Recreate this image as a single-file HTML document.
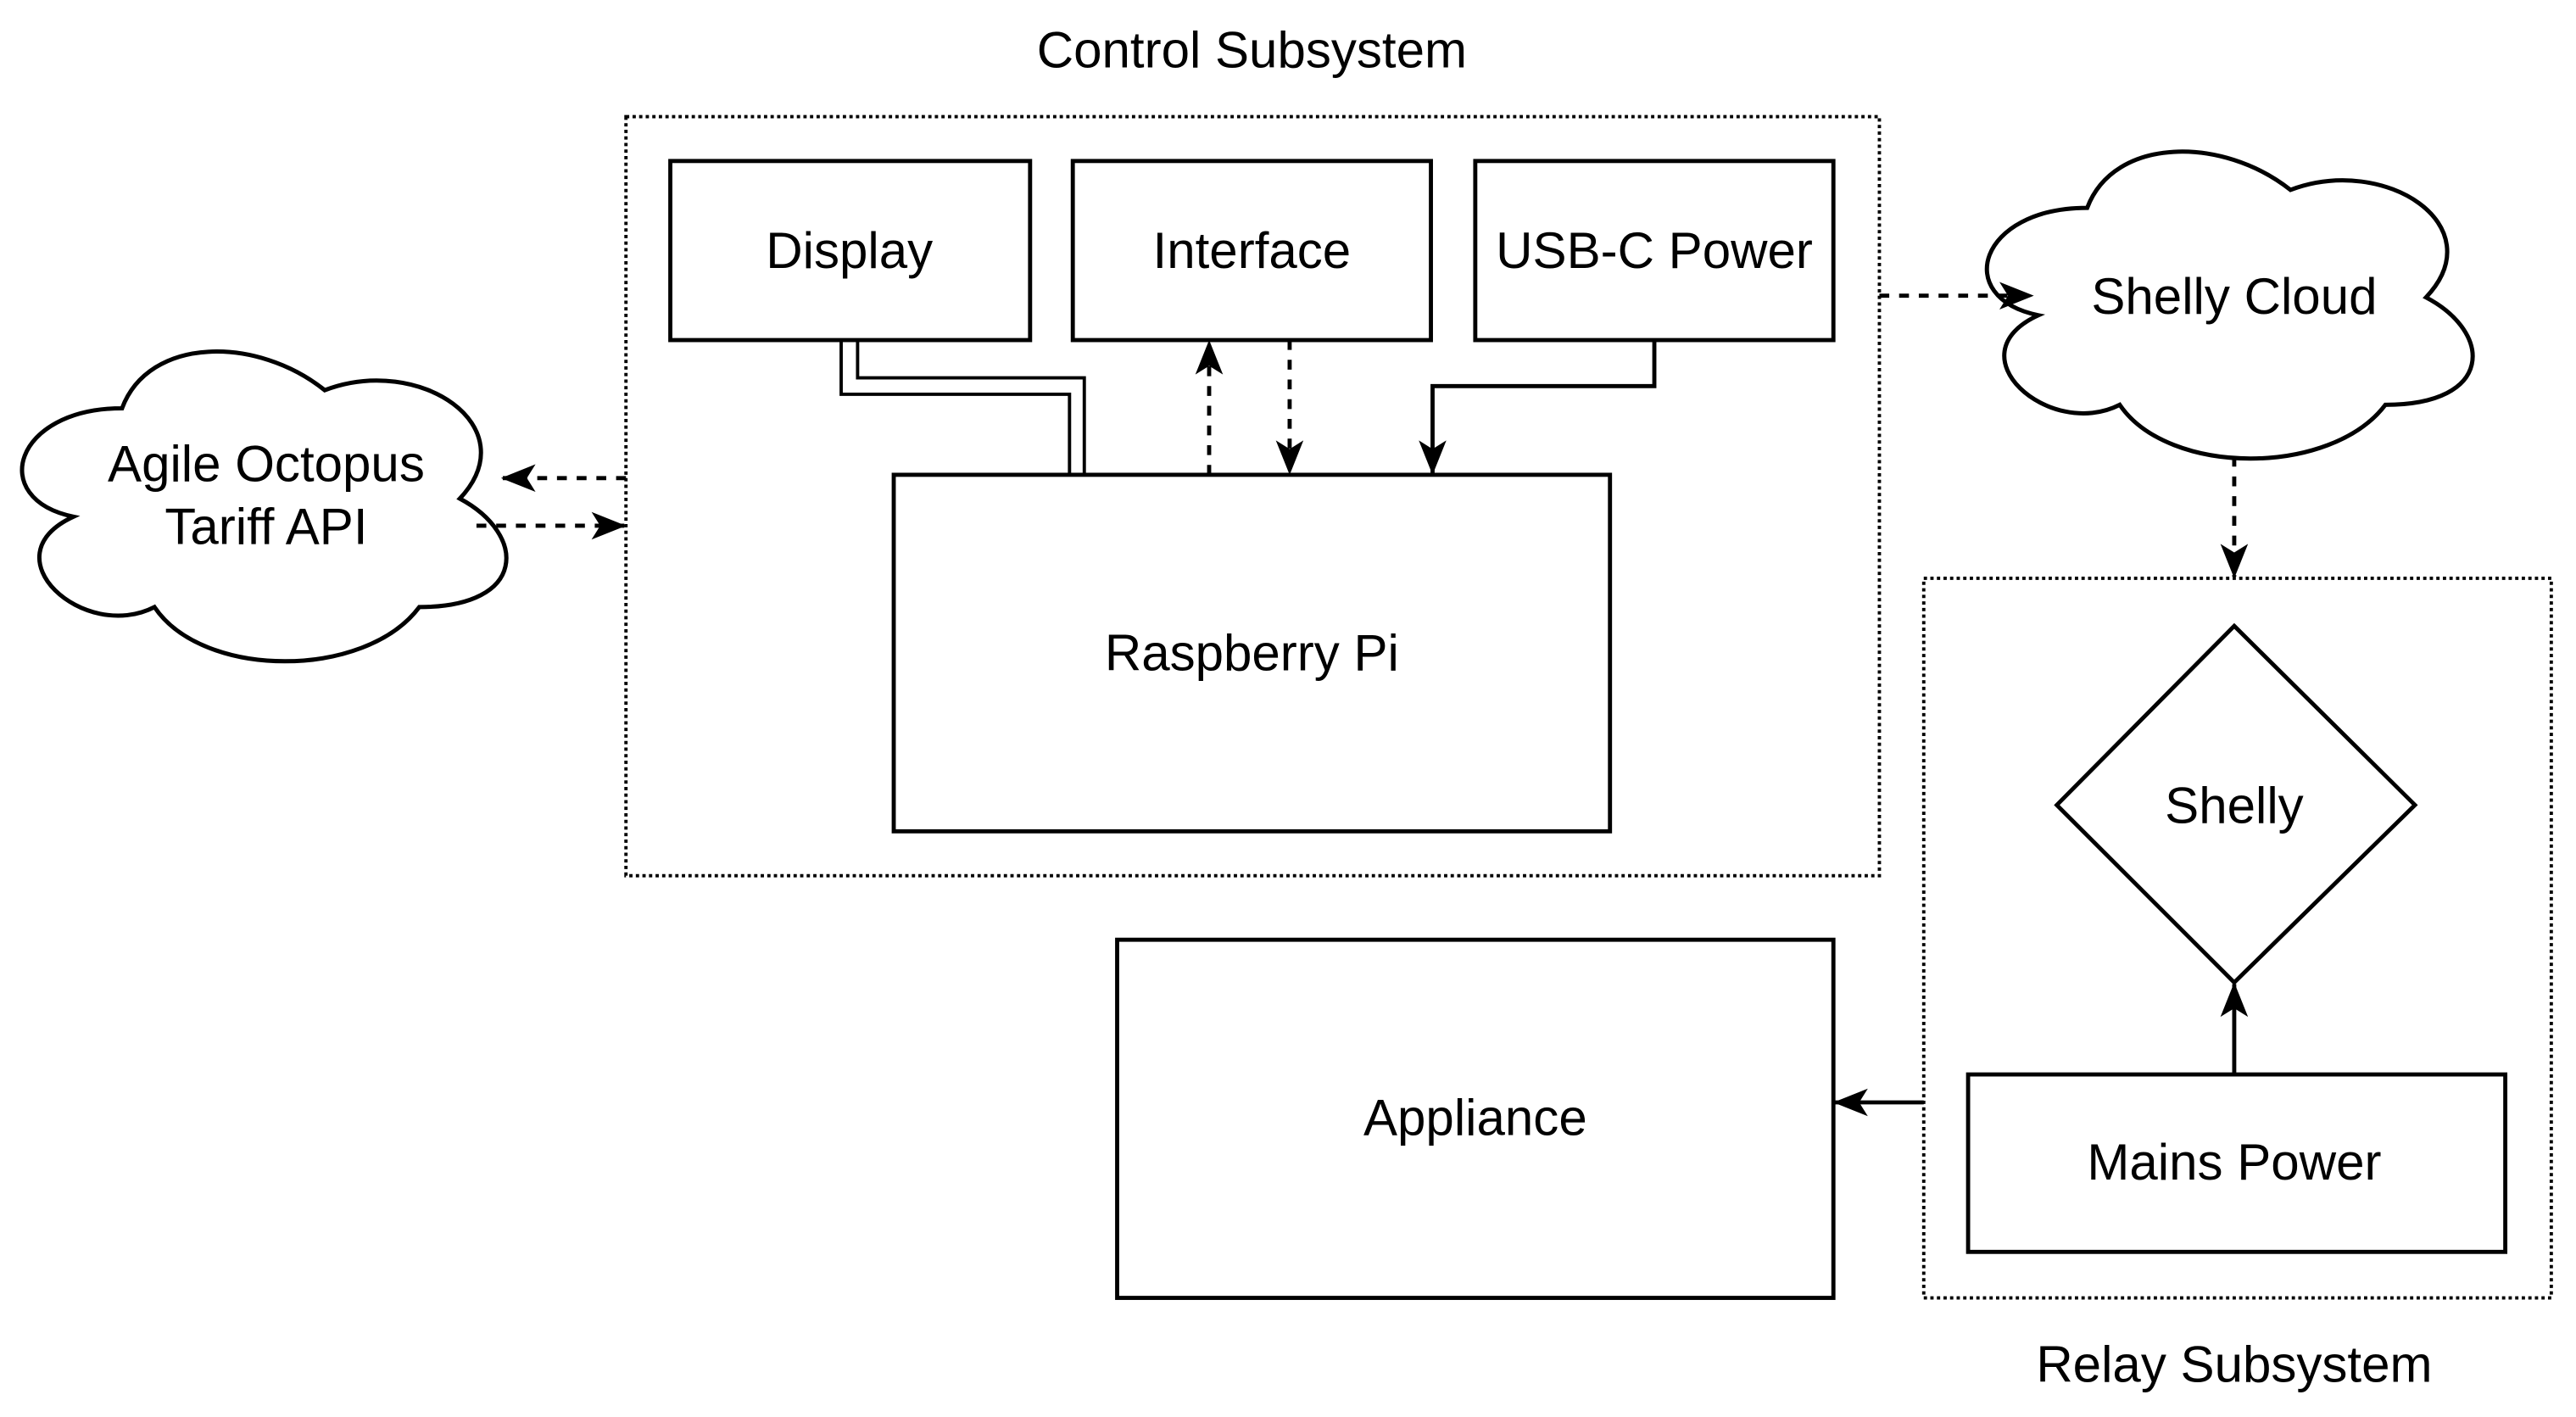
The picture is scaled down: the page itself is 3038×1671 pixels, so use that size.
<!DOCTYPE html>
<html><head><meta charset="utf-8"><style>html,body{margin:0;padding:0;background:#fff}svg{display:block}</style></head>
<body>
<svg width="3038" height="1671" viewBox="0 0 1568 862.5" xmlns="http://www.w3.org/2000/svg" font-family="Liberation Sans, Arial, sans-serif" font-size="31" text-anchor="middle">
<defs>
<marker id="a" viewBox="0 0 20 16" refX="19" refY="8" markerWidth="21" markerHeight="18" markerUnits="userSpaceOnUse" orient="auto">
<path d="M0,0 L20,8 L0,16 L5,8 Z" fill="#000"/>
</marker>
</defs>
<rect width="1568" height="862.5" fill="#fff"/>
<g fill="none" stroke="#000" stroke-width="2.5">
<!-- containers -->
<rect x="381" y="71" width="763" height="462" stroke-width="2" stroke-dasharray="2 2"/>
<rect x="1171" y="352" width="382" height="438" stroke-width="2" stroke-dasharray="2 2"/>
<!-- boxes -->
<rect x="408" y="98" width="219" height="109"/>
<rect x="653" y="98" width="218" height="109"/>
<rect x="898" y="98" width="218" height="109"/>
<rect x="544" y="289" width="436" height="217"/>
<rect x="680" y="572" width="436" height="218"/>
<rect x="1198" y="654" width="327" height="108"/>
<path d="M1360,381 L1470,490 L1360,598 L1252,490 Z"/>
<!-- clouds -->
<path transform="translate(-8,193.5) scale(329,220)" vector-effect="non-scaling-stroke" stroke-width="5" d="M0.25,0.25 C0.05,0.25 0,0.5 0.16,0.55 C0,0.66 0.18,0.9 0.31,0.8 C0.4,1 0.7,1 0.8,0.8 C1,0.8 1,0.6 0.875,0.5 C1,0.3 0.8,0.1 0.625,0.2 C0.5,0.05 0.3,0.05 0.25,0.25 Z"/>
<path transform="translate(1188,72) scale(330,218)" vector-effect="non-scaling-stroke" stroke-width="5" d="M0.25,0.25 C0.05,0.25 0,0.5 0.16,0.55 C0,0.66 0.18,0.9 0.31,0.8 C0.4,1 0.7,1 0.8,0.8 C1,0.8 1,0.6 0.875,0.5 C1,0.3 0.8,0.1 0.625,0.2 C0.5,0.05 0.3,0.05 0.25,0.25 Z"/>
<!-- display double link -->
<path d="M512,207 V240 H651 V289" stroke-width="2"/>
<path d="M522,207 V230 H660 V289" stroke-width="2"/>
<!-- interface -->
<path d="M736,289 V208" stroke-dasharray="6 6" marker-end="url(#a)"/>
<path d="M785,207 V288" stroke-dasharray="6 6" marker-end="url(#a)"/>
<!-- usb-c -->
<path d="M1007,207 V235 H872 V288" marker-end="url(#a)"/>
<!-- agile -->
<path d="M381,291 H306" stroke-dasharray="6 6" marker-end="url(#a)"/>
<path d="M290,320 H380" stroke-dasharray="6 6" marker-end="url(#a)"/>
<!-- shelly cloud -->
<path d="M1144,180 H1237" stroke-dasharray="6 6" marker-end="url(#a)"/>
<path d="M1360,278 V351" stroke-dasharray="6 6" marker-end="url(#a)"/>
<!-- mains -> shelly -->
<path d="M1360,654 V599" marker-end="url(#a)"/>
<!-- relay -> appliance -->
<path d="M1171,671 H1117" marker-end="url(#a)"/>
</g>
<g fill="#000">
<text x="762" y="41">Control Subsystem</text>
<text x="1360" y="841">Relay Subsystem</text>
<text x="517" y="163">Display</text>
<text x="762" y="163">Interface</text>
<text x="1007" y="163">USB-C Power</text>
<text x="762" y="408">Raspberry Pi</text>
<text x="898" y="691">Appliance</text>
<text x="1360" y="718">Mains Power</text>
<text x="1360" y="501">Shelly</text>
<text x="1360" y="191">Shelly Cloud</text>
<text x="162" y="293">Agile Octopus</text>
<text x="162" y="331">Tariff API</text>
</g>
</svg>
</body></html>
